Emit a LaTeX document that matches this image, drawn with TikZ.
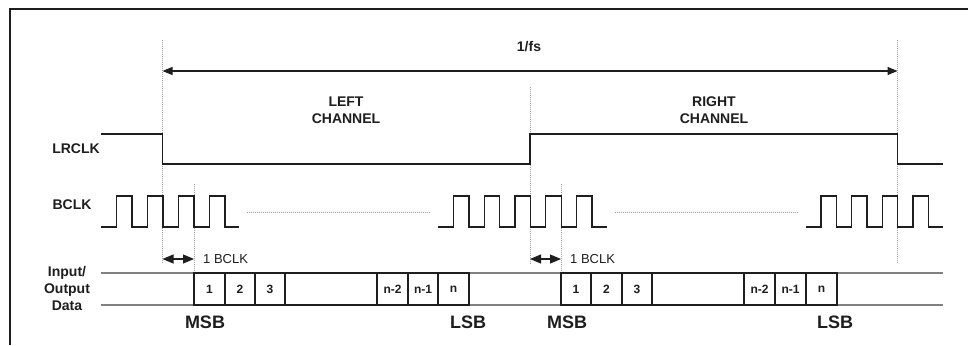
\documentclass[tikz,border=0pt]{standalone}
\usepackage{fontspec}
\setmainfont{Liberation Sans}
\usetikzlibrary{arrows.meta}
\definecolor{ink}{HTML}{1E1E1E}
\definecolor{dimline}{HTML}{808080}
\definecolor{dotcol}{HTML}{A0A0A0}
\tikzset{
  wave/.style={draw=ink,line width=1.3pt,line join=miter},
  guide/.style={draw=dotcol,line width=0.9pt,dash pattern=on 1pt off 1pt},
  frameline/.style={draw=ink,line width=1.4pt},
  lab/.style={font=\bfseries\fontsize{14}{17}\selectfont,align=center,text=ink,inner sep=0pt},
  biglab/.style={font=\bfseries\fontsize{18}{20}\selectfont,text=ink,inner sep=0pt},
  small/.style={font=\fontsize{13}{15}\selectfont,text=ink,inner sep=0pt,anchor=west},
  databox/.style={draw=ink,line width=1.3pt,minimum height=32pt,inner sep=0pt,font=\bfseries\fontsize{12}{14}\selectfont,text=ink},
  grayline/.style={draw=dimline,line width=1.3pt},
  span/.style={draw=ink,line width=1.2pt,{Triangle[length=10pt,width=8pt]}-{Triangle[length=10pt,width=8pt]}},
  onebclk/.style={draw=ink,line width=1.2pt,{Triangle[length=11pt,width=9pt]}-{Triangle[length=11pt,width=9pt]}}
}
\begin{document}
\begin{tikzpicture}[x=1pt,y=-1pt]
\useasboundingbox (0,0) rectangle (968,345);
\fill[white] (0,0) rectangle (968,345);
% frame
\draw[frameline] (10,345) -- (10,9) -- (968,9);

% guide coordinates
\coordinate (g1t) at (162.5,40);  \coordinate (g1b) at (162.5,264);
\coordinate (g2t) at (194,184);   \coordinate (g2b) at (194,273);
\coordinate (g3t) at (530,87);    \coordinate (g3b) at (530,264);
\coordinate (g4t) at (561,184);   \coordinate (g4b) at (561,273);
\coordinate (g5t) at (897.5,40);  \coordinate (g5b) at (897.5,264);
\draw[guide] (g1t) -- (g1b);
\draw[guide] (g2t) -- (g2b);
\draw[guide] (g3t) -- (g3b);
\draw[guide] (g4t) -- (g4b);
\draw[guide] (g5t) -- (g5b);

% 1/fs span
\coordinate (fsL) at (162.5,71);
\coordinate (fsR) at (897.5,71);
\draw[span] (fsL) -- (fsR);
\node[lab] (fs) at (529,47) {1/fs};

% channel labels
\node[lab] (left) at (346,110) {LEFT\\CHANNEL};
\node[lab] (right) at (714,110) {RIGHT\\CHANNEL};

% LRCLK
\node[lab] (lrclk) at (76,149) {LRCLK};
\draw[wave] (101,134) -- (162.5,134) -- (162.5,164) -- (530,164) -- (530,134)
  -- (897.5,134) -- (897.5,164) -- (943,164);

% BCLK
\node[lab] (bclk) at (72,205) {BCLK};
\draw[wave] (101,227)
  foreach \i in {0,...,3} { -- ({116.5+\i*31},227) -- ({116.5+\i*31},196)
     -- ({132+\i*31},196) -- ({132+\i*31},227) } -- (239,227);
\draw[wave] (438,227)
  foreach \i in {0,...,4} { -- ({453.5+\i*30.75},227) -- ({453.5+\i*30.75},196)
     -- ({468.9+\i*30.75},196) -- ({468.9+\i*30.75},227) } -- (607,227);
\draw[wave] (806,227)
  foreach \i in {0,...,3} { -- ({821+\i*30.7},227) -- ({821+\i*30.7},196)
     -- ({836.35+\i*30.7},196) -- ({836.35+\i*30.7},227) } -- (943,227);
\draw[guide] (247,212) -- (430,212);
\draw[guide] (615,212) -- (798,212);

% 1 BCLK markers
\coordinate (d1L) at (162.5,259); \coordinate (d1R) at (194,259);
\coordinate (d2L) at (530,259);   \coordinate (d2R) at (561,259);
\draw[onebclk] (d1L) -- (d1R);
\draw[onebclk] (d2L) -- (d2R);
\node[small] (ob1) at (203,259) {1 BCLK};
\node[small] (ob2) at (570,259) {1 BCLK};

% data
\node[lab] (io) at (67,288) {Input/\\Output\\Data};
\draw[grayline] (101,273) -- (194,273);
\draw[grayline] (101,305) -- (194,305);
\draw[grayline] (469,273) -- (561,273);
\draw[grayline] (469,305) -- (561,305);
\draw[grayline] (837,273) -- (943,273);
\draw[grayline] (837,305) -- (943,305);

\node[databox,minimum width=31pt] (a1) at (209.5,289) {1};
\node[databox,minimum width=30pt] (a2) at (240,289) {2};
\node[databox,minimum width=30pt] (a3) at (270,289) {3};
\node[databox,minimum width=92pt] (amid) at (331,289) {};
\node[databox,minimum width=31pt] (an2) at (392.5,289) {n-2};
\node[databox,minimum width=30pt] (an1) at (423,289) {n-1};
\node[databox,minimum width=31pt] (an) at (453.5,289) {n};

\node[databox,minimum width=30pt] (b1) at (576,289) {1};
\node[databox,minimum width=31pt] (b2) at (606.5,289) {2};
\node[databox,minimum width=30pt] (b3) at (637,289) {3};
\node[databox,minimum width=92pt] (bmid) at (698,289) {};
\node[databox,minimum width=31pt] (bn2) at (759.5,289) {n-2};
\node[databox,minimum width=31pt] (bn1) at (790.5,289) {n-1};
\node[databox,minimum width=31pt] (bn) at (821.5,289) {n};

\node[biglab] (msb1) at (205,322) {MSB};
\node[biglab] (lsb1) at (468,322) {LSB};
\node[biglab] (msb2) at (567,322) {MSB};
\node[biglab] (lsb2) at (835,322) {LSB};
\end{tikzpicture}
\end{document}
